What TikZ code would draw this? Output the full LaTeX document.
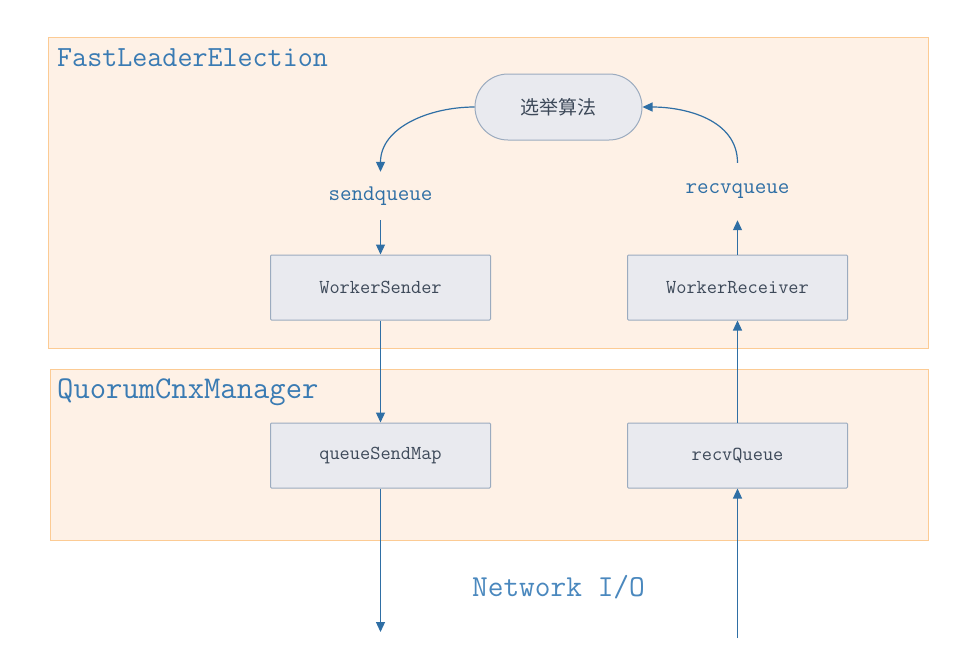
\documentclass[tikz,border=0pt]{standalone}
\usepackage{fontspec}
\newfontfamily\cjk{Noto Sans CJK SC}
\usetikzlibrary{arrows.meta}
\definecolor{panelfill}{HTML}{FEF1E6}
\definecolor{paneldraw}{HTML}{FCCB94}
\definecolor{boxfill}{HTML}{E9EAEF}
\definecolor{boxdraw}{HTML}{9BABBF}
\definecolor{arrowc}{HTML}{2F6FA5}
\definecolor{titlec}{HTML}{3A7BB3}
\definecolor{textc}{HTML}{3D4959}
\definecolor{netc}{HTML}{4A88BE}
\begin{document}
\begin{tikzpicture}[x=1pt,y=-1pt,
  panel/.style={draw=paneldraw, fill=panelfill, line width=1pt},
  boxn/.style={draw=boxdraw, fill=boxfill, line width=1pt, minimum width=220pt, minimum height=65pt, inner sep=0pt, font=\fontsize{19.8}{20}\selectfont\ttfamily, text=textc, rounded corners=1pt},
  pill/.style={draw=boxdraw, fill=boxfill, line width=1pt, minimum width=167pt, minimum height=66pt, inner sep=0pt, rounded corners=33pt, font=\fontsize{19}{20}\selectfont\cjk, text=textc},
  qlabel/.style={inner sep=0pt, font=\fontsize{22.4}{23}\selectfont\ttfamily, text=arrowc},
  title/.style={anchor=west, inner sep=0pt, text=titlec},
  flow/.style={draw=arrowc, line width=1.2pt, -{Triangle[length=10pt,width=9pt]}},
]
\fill[white] (0,0) rectangle (971,649);
\useasboundingbox (0,0) rectangle (971,649);

\draw[panel] (48,37) rectangle (928,348);
\draw[panel] (50,369) rectangle (928,540);

\node[title, font=\fontsize{29.2}{30}\selectfont\ttfamily] (fle) at (57,58) {FastLeaderElection};
\node[title, font=\fontsize{31.7}{32}\selectfont\ttfamily] (qcm) at (57,392) {QuorumCnxManager};

\node[pill] (algo) at (558.5,107) {选举算法};

\node[qlabel, minimum height=48pt] (sq) at (380.5,196) {sendqueue};
\node[qlabel, minimum height=57pt] (rvq) at (737.5,191.5) {recvqueue};

\node[boxn] (ws) at (380.5,287.5) {WorkerSender};
\node[boxn] (wr) at (737.5,287.5) {WorkerReceiver};
\node[boxn] (qsm) at (380.5,455.5) {queueSendMap};
\node[boxn] (rq) at (737.5,455.5) {recvQueue};

\node[inner sep=0pt, font=\fontsize{30.5}{31}\selectfont\ttfamily, text=netc] (net) at (558.5,587) {Network I/O};

\coordinate (sendEnd) at (380.5,632);
\coordinate (recvStart) at (737.5,638);

\draw[flow] (algo.west) to[out=180,in=90] (sq.north);
\draw[flow] (rvq.north) to[out=90,in=0] (algo.east);
\draw[flow] (sq.south) -- (ws.north);
\draw[flow] (wr.north) -- (rvq.south);
\draw[flow] (ws.south) -- (qsm.north);
\draw[flow] (rq.north) -- (wr.south);
\draw[flow] (qsm.south) -- (sendEnd);
\draw[flow] (recvStart) -- (rq.south);
\end{tikzpicture}
\end{document}
